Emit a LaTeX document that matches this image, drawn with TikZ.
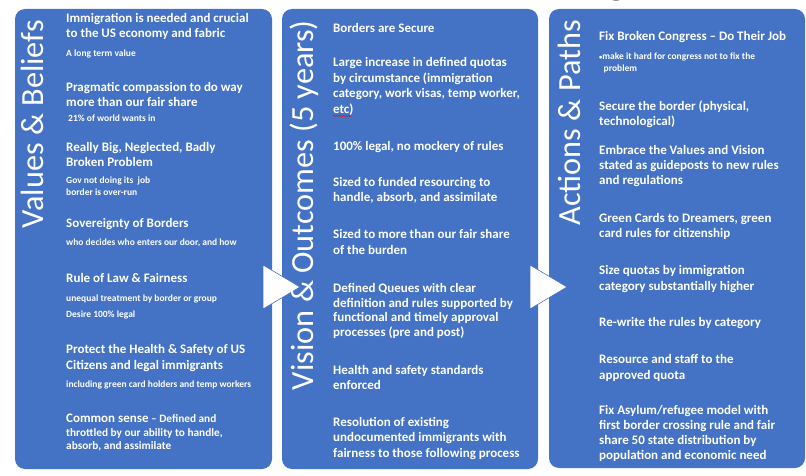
\documentclass[tikz,border=0pt]{standalone}
\usepackage{fontspec}
\setmainfont{Carlito}
\usetikzlibrary{positioning,decorations.pathmorphing}
\definecolor{panelblue}{HTML}{4472C4}
\begin{document}
\begin{tikzpicture}
[x=1pt,y=-1pt,
%
panel/.style={fill=panelblue,rounded corners=10pt},
ttl/.style={white,rotate=90,anchor=base east,inner sep=0pt,font=\fontsize{32.3}{32}\selectfont},
item/.style={white,anchor=north west,inner sep=0pt,align=left,font=\fontsize{13}{15}\selectfont\bfseries},
note/.style={item,font=\fontsize{9.5}{12}\selectfont\bfseries},
midnote/.style={item,font=\fontsize{11.3}{13.5}\selectfont\bfseries},
%
pointer/.style={fill=white,draw=panelblue,semithick,line join=miter},
squiggle/.style={red,thin,decorate,decoration={snake,amplitude=.6pt,segment length=2.5pt}}]
%
\useasboundingbox (0,0) rectangle (806,476);
% panels
\path[panel] (15,9) rectangle (272,469);
\path[panel] (282,9) rectangle (538,469);
\path[panel] (549,9) rectangle (805,468);
\foreach \x in {263,530}
\draw[pointer] (\x,265) -- (\x,309) -- (\x+37,287) -- cycle;
% cut-off heading
\node (hd) [anchor=base,inner sep=0pt,font=\fontsize{44}{44}\selectfont\bfseries] at (617,-6) {g};
% Values & Beliefs
\node (vbt) [ttl] at (43,20) {Values \& Beliefs};
\node (vb1) [item] at (66,13) {Immigration is needed and crucial\\to the US economy and fabric};
\node (vb1n) [note] at (66,49.5) {A long term value};
\node (vb2) [item] at (66,82) {Pragmatic compassion to do way\\more than our fair share};
\node (vb2n) [note] at (68,114.5) {21\% of world wants in};
\node (vb3) [item] at (66,142) {Really Big, Neglected, Badly\\Broken Problem};
\node (vb3n) [note] at (66,176.5) {Gov not doing its\ \ job\\border is over-run};
\node (vb4) [item] at (66,218) {Sovereignty of Borders};
\node (vb4n) [note] at (66,238.5) {who decides who enters our door, and how};
\node (vb5) [item] at (66,273) {Rule of Law \& Fairness};
\node (vb5n) [note,font=\fontsize{9.5}{16}\selectfont\bfseries] at (66,294.5) {unequal treatment by border or group\\Desire 100\% legal};
\node (vb6) [item,font=\fontsize{13}{16}\selectfont\bfseries] at (66,344) {Protect the Health \& Safety of US\\Citizens and legal immigrants};
\node (vb6n) [note] at (66,380.5) {including green card holders and temp workers};
\node (vb7) [midnote] at (66,414) {{\fontsize{13}{13.5}\selectfont Common sense} \textendash{} Defined and\\throttled by our ability to handle,\\absorb, and assimilate};
% Vision & Outcomes
\node (vot) [ttl] at (313,20) {Vision \& Outcomes (5 years)};
\node (vo1) [item] at (333,23) {Borders are Secure};
\node (vo2) [item,font=\fontsize{13}{15.7}\selectfont\bfseries] at (333,57) {Large increase in defined quotas\\by circumstance (immigration\\category, work visas, temp worker,\\etc)};
\draw[squiggle] (333,116) -- (352,116);
\node (vo3) [item] at (333,141) {100\% legal, no mockery of rules};
\node (vo4) [item] at (333,177) {Sized to funded resourcing to\\handle, absorb, and assimilate};
\node (vo5) [item,font=\fontsize{13}{16}\selectfont\bfseries] at (333,229) {Sized to more than our fair share\\of the burden};
\node (vo6) [item,font=\fontsize{13}{14.7}\selectfont\bfseries] at (333,283) {Defined Queues with clear\\definition and rules supported by\\functional and timely approval\\processes (pre and post)};
\node (vo7) [item] at (333,365) {Health and safety standards\\enforced};
\node (vo8) [item,font=\fontsize{13}{15.5}\selectfont\bfseries] at (333,417) {Resolution of existing\\undocumented immigrants with\\fairness to those following process};
% Actions & Paths
\node (apt) [ttl] at (580,20) {Actions \& Paths};
\node (ap1) [item] at (599,31) {Fix Broken Congress \textendash{} Do Their Job};
\node (ap1n) [note] at (599,52.5) {{\fontsize{6.5}{6.5}\selectfont\textbullet}make it hard for congress not to fix the\\\hspace{4.5pt}problem};
\node (ap2) [item] at (599,101) {Secure the border (physical,\\technological)};
\node (ap3) [item] at (599,145) {Embrace the Values and Vision\\stated as guideposts to new rules\\and regulations};
\node (ap4) [item] at (599,213) {Green Cards to Dreamers, green\\card rules for citizenship};
\node (ap5) [item,font=\fontsize{13}{16}\selectfont\bfseries] at (599,265) {Size quotas by immigration\\category substantially higher};
\node (ap6) [item] at (599,317) {Re-write the rules by category};
\node (ap7) [item,font=\fontsize{13}{16}\selectfont\bfseries] at (599,354) {Resource and staff to the\\approved quota};
\node (ap8) [item] at (599,405) {Fix Asylum/refugee model with\\first border crossing rule and fair\\share 50 state distribution by\\population and economic need};
\end{tikzpicture}
\end{document}
